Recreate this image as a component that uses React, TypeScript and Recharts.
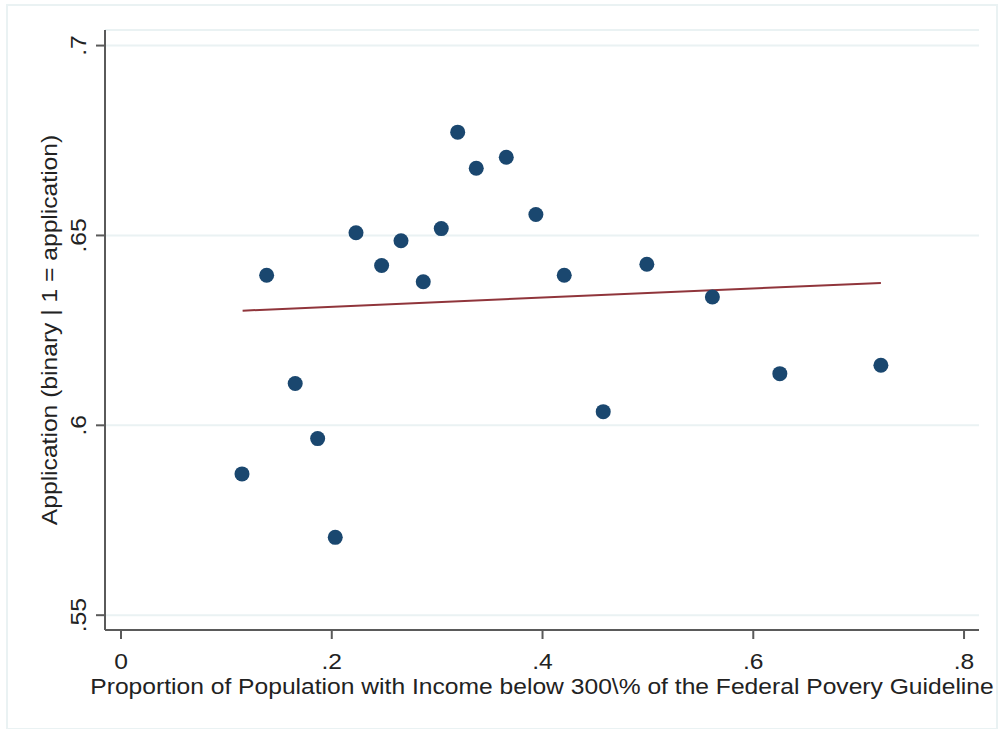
import React from "react";
import { ScatterChart, Scatter, XAxis, YAxis, CartesianGrid, ReferenceLine } from "recharts";

// share of population below 300% FPL vs. application rate (binned)
const povertyShare = [
  0.1148, 0.1382, 0.1653, 0.1866, 0.2033, 0.223, 0.2473, 0.2657, 0.2868, 0.3039,
  0.3195, 0.3371, 0.3656, 0.3937, 0.4206, 0.4576, 0.499, 0.5612, 0.6252, 0.7211,
];
const applicationRate = [
  0.5872, 0.6395, 0.611, 0.5965, 0.5705, 0.6507, 0.6421, 0.6486, 0.6378, 0.6518,
  0.6772, 0.6677, 0.6706, 0.6555, 0.6395, 0.6036, 0.6424, 0.6338, 0.6136, 0.6158,
];

// linear fit endpoints
const fitX = [0.1154, 0.7211];
const fitY = [0.6302, 0.6375];

const xTicks = [0, 0.2, 0.4, 0.6, 0.8];
const yTicks = [0.55, 0.6, 0.65, 0.7];

const xTitle = "Proportion of Population with Income below 300\\% of the Federal Povery Guideline";
const yTitle = "Application (binary | 1 = application)";

const points = povertyShare.map((x, i) => ({ x, y: applicationRate[i] }));

const FONT = "'Liberation Sans', Arial, sans-serif";
const NAVY = "#1a476f";
const MAROON = "#90353b";
const GRID = "#eaf2f3";
const AXIS = "#5a5a5a";
const INK = "#222";
// text is a bit wide along its baseline
const STRETCH = 1.12;

const fmt = (v: number) => (v === 0 ? "0" : String(v).replace(/^0/, ""));

// horizontal or rotated label, stretched along the reading direction
const Label = ({ x, y, rotate = 0, size = 22, children }: any) => (
  <text
    transform={`translate(${x},${y}) rotate(${rotate}) scale(${STRETCH},1)`}
    textAnchor="middle"
    fontSize={size}
    fontFamily={FONT}
    fill={INK}
  >
    {children}
  </text>
);

const XTick = ({ x, y, payload }: any) => <Label x={x} y={y + 28}>{fmt(payload.value)}</Label>;

const YTick = ({ y, payload }: any) => (
  <Label x={86} y={y} rotate={-90}>
    {fmt(payload.value)}
  </Label>
);

const Dot = (props: any) => <circle cx={props.cx} cy={props.cy} r={7.5} fill={NAVY} />;

export default function App() {
  return (
    <div style={{ position: "fixed", left: 0, top: 0, width: 1000, height: 729, background: "#fff" }}>
      <div
        style={{
          position: "absolute",
          left: 6,
          top: 4,
          width: 988,
          height: 722,
          border: `2px solid ${GRID}`,
        }}
      />
      <ScatterChart width={1000} height={729} margin={{ top: 30, right: 21, bottom: 39, left: 45 }}>
        <CartesianGrid vertical={false} stroke={GRID} strokeWidth={2} />
        <XAxis
          type="number"
          dataKey="x"
          domain={[-0.0152, 0.8142]}
          ticks={xTicks}
          height={60}
          tickSize={9}
          tickMargin={2}
          stroke={AXIS}
          strokeWidth={2}
          tick={<XTick />}
          label={{
            value: xTitle,
            content: () => (
              <Label x={542} y={694}>
                {xTitle}
              </Label>
            ),
          }}
        />
        <YAxis
          type="number"
          dataKey="y"
          domain={[0.5461, 0.7041]}
          ticks={yTicks}
          width={60}
          tickSize={9}
          stroke={AXIS}
          strokeWidth={2}
          tick={<YTick />}
          label={{
            value: yTitle,
            content: () => (
              <Label x={57} y={330} rotate={-90}>
                {yTitle}
              </Label>
            ),
          }}
        />
        <ReferenceLine
          segment={[
            { x: fitX[0], y: fitY[0] },
            { x: fitX[1], y: fitY[1] },
          ]}
          stroke={MAROON}
          strokeWidth={2}
        />
        <Scatter data={points} shape={<Dot />} isAnimationActive={false} />
      </ScatterChart>
    </div>
  );
}
